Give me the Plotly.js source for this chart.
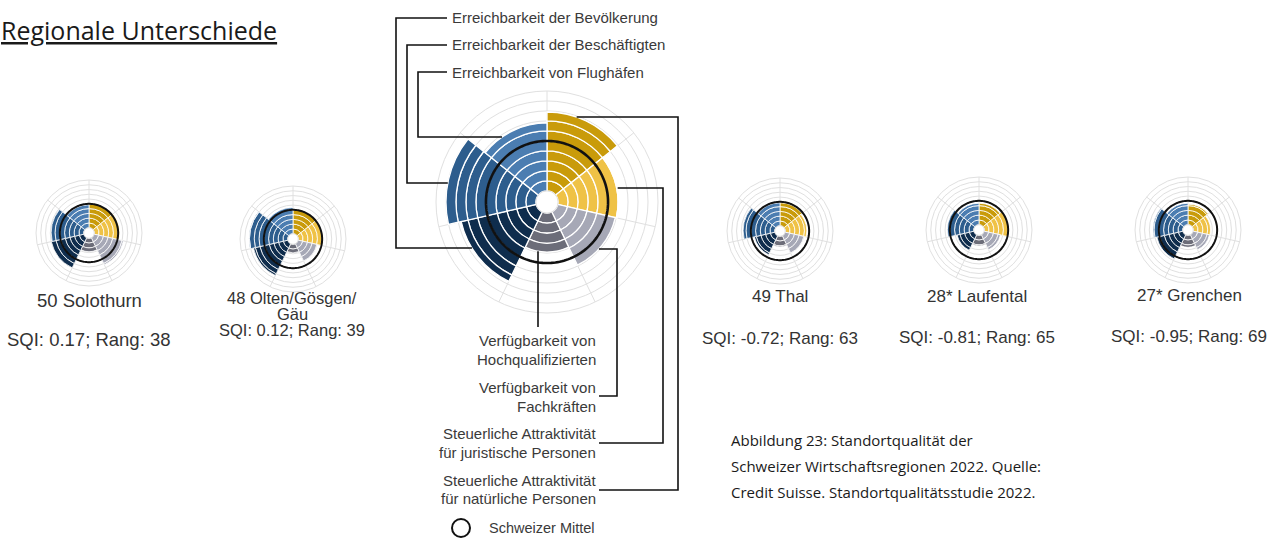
<!DOCTYPE html>
<html><head><meta charset="utf-8">
<script src="https://cdn.plot.ly/plotly-3.0.1.min.js"></script>
<style>html,body{margin:0;padding:0;background:#fff}</style>
</head><body><div id="chart" style="width:1269px;height:541px"></div>
<script>
// ---- data ----
const categories = [
  "Steuerliche Attraktivität für natürliche Personen",
  "Steuerliche Attraktivität für juristische Personen",
  "Verfügbarkeit von Fachkräften",
  "Verfügbarkeit von Hochqualifizierten",
  "Erreichbarkeit der Bevölkerung",
  "Erreichbarkeit der Beschäftigten",
  "Erreichbarkeit von Flughäfen"
];
const categoryColors = ["#C99B0A", "#EFC246", "#A6A8B6", "#6C6D79", "#0F2D4D", "#2D5D8D", "#4B7DB1"];
const schweizerMittel = 5;
const mainValues = [7.9, 6.1, 5.9, 3.9, 7.7, 9.0, 6.8];
const regionNames = ["50 Solothurn", "48 Olten/Gösgen/", "49 Thal", "28* Laufental", "27* Grenchen"];
const regionSqi = ["0.17", "0.12", "-0.72", "-0.81", "-0.95"];
const regionRang = [38, 39, 63, 65, 69];
const solothurnValues = [5.0, 5.3, 6.3, 2.8, 7.0, 6.8, 4.8];
const oltenValues = [5.0, 5.0, 4.0, 1.8, 7.4, 8.1, 5.5];
const thalValues = [4.8, 4.5, 4.0, 2.2, 4.4, 6.6, 4.8];
const laufentalValues = [4.5, 5.0, 3.5, 2.2, 3.6, 5.5, 4.5];
const grenchenValues = [4.3, 3.6, 3.5, 2.5, 5.6, 6.2, 4.5];

// ---- layout helpers ----
const W = 1269, H = 541;
const HOLE = 0.1, RMAX = 10;
const px = x => x / W, py = y => 1 - y / H;
const n = categories.length, step = 360 / n;
const thetaCenters = categories.map((c, i) => (i + 0.5) * step);
const boundaries = categories.map((c, i) => i * step);

const charts = [
  {vals: mainValues, cx: 547, cy: 202, R: 111, lw: 1.3, mw: 2.6},
  {vals: solothurnValues, cx: 89, cy: 233, R: 53, lw: 0.8, mw: 2},
  {vals: oltenValues, cx: 293, cy: 239, R: 53, lw: 0.8, mw: 2},
  {vals: thalValues, cx: 780, cy: 231, R: 53, lw: 0.8, mw: 2},
  {vals: laufentalValues, cx: 979, cy: 230, R: 53, lw: 0.8, mw: 2},
  {vals: grenchenValues, cx: 1188, cy: 230, R: 53, lw: 0.8, mw: 2}
];

const traces = [];
const layout = {
  width: W, height: H, margin: {l: 0, r: 0, t: 0, b: 0},
  paper_bgcolor: "#fff", plot_bgcolor: "#fff", showlegend: false,
  font: {family: "Liberation Sans, Arial, sans-serif", color: "#333"},
  shapes: [], annotations: []
};
const circleTheta = Array.from({length: 181}, (_, i) => i * 2);

charts.forEach((c, ci) => {
  const sp = ci === 0 ? "polar" : "polar" + (ci + 1);
  for (let k = 0; k < RMAX; k++) {
    const r = c.vals.map(v => v - k >= 1 ? 1 : (v - k > 0 ? v - k : null));
    traces.push({
      type: "barpolar", subplot: sp, r: r, theta: thetaCenters, width: step,
      marker: {color: categoryColors, line: {color: "#ffffff", width: c.lw}},
      hoverinfo: "skip", showlegend: false
    });
  }
  traces.push({
    type: "scatterpolar", subplot: sp, mode: "lines",
    r: circleTheta.map(() => schweizerMittel), theta: circleTheta,
    line: {color: "#111", width: c.mw}, hoverinfo: "skip", showlegend: false
  });
  layout[sp] = {
    domain: {x: [px(c.cx - c.R), px(c.cx + c.R)], y: [py(c.cy + c.R), py(c.cy - c.R)]},
    hole: HOLE, bgcolor: "rgba(0,0,0,0)", barmode: "stack", bargap: 0,
    radialaxis: {range: [0, RMAX], tickvals: [1,2,3,4,5,6,7,8,9,10], showticklabels: false, ticks: "",
      showline: false, gridcolor: "#e0e0e0", gridwidth: 1},
    angularaxis: {rotation: 90, direction: "clockwise", thetaunit: "degrees", tickmode: "array",
      tickvals: boundaries, showticklabels: false, ticks: "", showline: true,
      linecolor: "#e0e0e0", linewidth: 1, gridcolor: "#e0e0e0", gridwidth: 1}
  };
});

// ---- leader lines for main chart (anchors computed from data) ----
const mc = charts[0];
const radPx = v => mc.R * HOLE + v * (mc.R * (1 - HOLE) / RMAX);
function arcX(idx, y, side) {
  const R = radPx(mainValues[idx]); const dy = y - mc.cy;
  return mc.cx + side * Math.sqrt(Math.max(R * R - dy * dy, 0));
}
function arcY(idx, x) {
  const R = radPx(mainValues[idx]); const dx = x - mc.cx;
  return mc.cy + Math.sqrt(Math.max(R * R - dx * dx, 0));
}
const leaders = [
  [[arcX(4, 248, -1), 248], [396, 248], [396, 18], [447, 18]],
  [[arcX(5, 183, -1), 183], [407, 183], [407, 45], [447, 45]],
  [[arcX(6, 137, -1), 137], [418, 137], [418, 72], [447, 72]],
  [[arcX(0, 117, 1), 117], [678, 117], [678, 490], [599, 490]],
  [[arcX(1, 188, 1), 188], [663, 188], [663, 443], [599, 443]],
  [[arcX(2, 249, 1), 249], [617, 249], [617, 396], [599, 396]],
  [[538, arcY(3, 538)], [538, 327]]
];
leaders.forEach(p => {
  const path = p.map((q, i) => (i ? "L" : "M") + px(q[0]) + "," + py(q[1])).join(" ");
  layout.shapes.push({type: "path", xref: "paper", yref: "paper", path: path,
    line: {color: "#111", width: 1.6}});
});

const lblFont = {family: "Liberation Sans, Arial, sans-serif", size: 15, color: "#3a3a3a"};
function ann(text, x, y, xa, extra) {
  layout.annotations.push(Object.assign({text: text, x: px(x), y: py(y), xref: "paper", yref: "paper",
    xanchor: xa, yanchor: "middle", showarrow: false, font: lblFont, align: xa === "right" ? "right" : "left"}, extra || {}));
}
ann(categories[4], 450, 18, "left");
ann(categories[5], 450, 45, "left");
ann(categories[6], 450, 72, "left");
ann("Verfügbarkeit von", 598, 340, "right");
ann("Hochqualifizierten", 598, 359, "right");
ann("Verfügbarkeit von", 598, 387, "right");
ann("Fachkräften", 598, 406, "right");
ann("Steuerliche Attraktivität", 598, 433, "right");
ann("für juristische Personen", 598, 452, "right");
ann("Steuerliche Attraktivität", 598, 480, "right");
ann("für natürliche Personen", 598, 498, "right");
ann("Schweizer Mittel", 487, 528, "left", {font: Object.assign({}, lblFont, {size: 14.5})});
layout.shapes.push({type: "circle", xref: "paper", yref: "paper",
  x0: px(452), x1: px(470), y0: py(537), y1: py(519), line: {color: "#111", width: 2}});

// ---- region labels ----
const labelPos = [
  {x: 89, yName: 300, ySqi: 339, fs: 18.5},
  {x: 292, yName: 298, ySqi: 330, fs: 16.5},
  {x: 780, yName: 296, ySqi: 338, fs: 17},
  {x: 977, yName: 296, ySqi: 337, fs: 17},
  {x: 1189, yName: 295, ySqi: 336, fs: 17}
];
regionNames.forEach((nm, i) => {
  const p = labelPos[i];
  const f = {family: "Liberation Sans, Arial, sans-serif", size: p.fs, color: "#333"};
  ann(nm, p.x, p.yName, "center", {font: f});
  if (i === 1) ann("Gäu", p.x, 314, "center", {font: f});
  ann("SQI: " + regionSqi[i] + "; Rang: " + regionRang[i], p.x, p.ySqi, "center", {font: f});
});

// ---- title and caption ----
const docFont = {family: "Open Sans, Noto Sans, sans-serif", size: 25, color: "#1a1a1a"};
ann("<u>Regionale Unterschiede</u>", -1, 30, "left", {font: docFont});
const capFont = {family: "Open Sans, Noto Sans, sans-serif", size: 15, color: "#1a1a1a"};
ann("Abbildung 23: Standortqualität der", 729, 440, "left", {font: capFont});
ann("Schweizer Wirtschaftsregionen 2022. Quelle:", 729, 466, "left", {font: capFont});
ann("Credit Suisse. Standortqualitätsstudie 2022.", 729, 492, "left", {font: capFont});

Plotly.newPlot("chart", traces, layout, {staticPlot: true, displayModeBar: false});
</script>
</body></html>
